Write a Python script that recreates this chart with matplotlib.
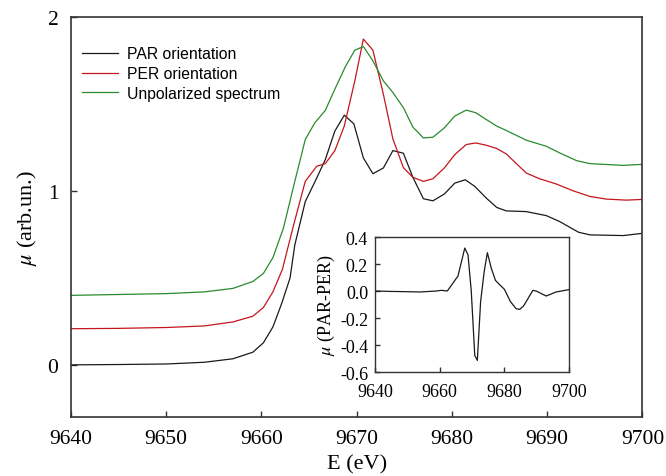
import matplotlib
matplotlib.use("Agg")
import matplotlib.pyplot as plt

# PAR orientation (black)
E_par = [9640, 9645, 9650, 9654, 9657, 9659.1, 9660.2, 9661.2, 9662.1, 9663.0, 9663.5,
         9664.6, 9665.6, 9666.7, 9667.7, 9668.7, 9669.7, 9670.7, 9671.7, 9672.8, 9673.8,
         9674.9, 9675.9, 9677.0, 9678.0, 9679.2, 9680.3, 9681.4, 9682.4, 9683.6, 9684.7,
         9685.7, 9687.8, 9689.9, 9691.3, 9693.3, 9694.5, 9698.0, 9700]
mu_par = [0.0, 0.002, 0.005, 0.015, 0.035, 0.073, 0.127, 0.218, 0.35, 0.50, 0.69,
          0.94, 1.052, 1.181, 1.345, 1.437, 1.387, 1.191, 1.100, 1.133, 1.233,
          1.218, 1.079, 0.956, 0.944, 0.983, 1.046, 1.065, 1.027, 0.960, 0.906,
          0.886, 0.882, 0.859, 0.825, 0.763, 0.748, 0.744, 0.757]

# PER orientation (red)
E_per = [9640, 9645, 9650, 9654, 9657, 9659.1, 9660.2, 9661.2, 9662.2, 9663.4, 9664.6,
         9665.8, 9666.7, 9667.7, 9668.7, 9669.8, 9670.7, 9671.7, 9672.8, 9673.8, 9674.9,
         9675.9, 9677.0, 9678.0, 9679.2, 9680.3, 9681.5, 9682.5, 9683.6, 9684.7, 9685.7,
         9687.8, 9689.2, 9691.0, 9692.7, 9694.5, 9696.2, 9698.3, 9700]
mu_per = [0.208, 0.21, 0.215, 0.224, 0.247, 0.28, 0.33, 0.42, 0.55, 0.81, 1.056,
          1.143, 1.158, 1.232, 1.375, 1.634, 1.875, 1.811, 1.557, 1.300, 1.135,
          1.079, 1.056, 1.071, 1.133, 1.210, 1.268, 1.277, 1.264, 1.245, 1.214,
          1.104, 1.071, 1.040, 1.002, 0.969, 0.954, 0.948, 0.952]

# Unpolarized spectrum (green)
E_unp = [9640, 9645, 9650, 9654, 9657, 9659.1, 9660.2, 9661.2, 9662.3, 9663.5, 9664.6,
         9665.6, 9666.7, 9667.7, 9668.8, 9669.8, 9670.7, 9671.7, 9672.8, 9673.8, 9674.9,
         9675.9, 9677.0, 9678.0, 9679.2, 9680.3, 9681.5, 9682.5, 9683.6, 9684.7, 9685.7,
         9687.8, 9689.9, 9691.3, 9693.1, 9694.5, 9698.0, 9700]
mu_unp = [0.40, 0.405, 0.41, 0.42, 0.44, 0.48, 0.526, 0.617, 0.786, 1.056, 1.297,
          1.393, 1.464, 1.586, 1.715, 1.811, 1.832, 1.750, 1.634, 1.567, 1.480,
          1.368, 1.306, 1.310, 1.364, 1.432, 1.466, 1.451, 1.412, 1.374, 1.349,
          1.293, 1.258, 1.220, 1.175, 1.158, 1.148, 1.154]

# inset: PAR - PER
E_diff = [9640, 9645, 9650, 9654, 9659, 9660.6, 9662.4, 9665.7, 9667.8, 9668.8, 9669.8,
          9670.9, 9671.7, 9672.7, 9673.8, 9674.8, 9676.0, 9677.3, 9678.6, 9680.1, 9681.9,
          9683.7, 9684.8, 9686.0, 9688.9, 9689.9, 9693.0, 9696.1, 9700]
mu_diff = [0.0, -0.003, -0.005, -0.007, 0.0, 0.005, 0.0, 0.111, 0.318, 0.269, 0.005,
           -0.477, -0.514, -0.081, 0.141, 0.284, 0.170, 0.079, 0.047, 0.012, -0.077,
           -0.131, -0.136, -0.111, 0.005, 0.0, -0.037, -0.007, 0.010]

main_xticks = [9640, 9650, 9660, 9670, 9680, 9690, 9700]
main_yticks = [0, 1, 2]
inset_xticks = [9640, 9660, 9680, 9700]
inset_yticks = [-0.6, -0.4, -0.2, 0.0, 0.2, 0.4]

plt.rcParams['font.family'] = ['Liberation Serif', 'DejaVu Serif']
plt.rcParams['mathtext.fontset'] = 'stix'
plt.rcParams['axes.unicode_minus'] = False

spine_col = '#333333'
c_par = '#1a1a1a'
c_per = '#c4161c'
c_unp = '#2b8a2e'

fig = plt.figure(figsize=(6.66, 4.77), dpi=100)
ax = fig.add_axes([0.1066, 0.1237, 0.858, 0.8379])

ax.plot(E_par, mu_par, color=c_par, lw=0.9, label='PAR orientation')
ax.plot(E_per, mu_per, color=c_per, lw=0.9, label='PER orientation')
ax.plot(E_unp, mu_unp, color=c_unp, lw=0.9, label='Unpolarized spectrum')

ax.set_xlim(9640, 9700)
ax.set_ylim(-0.3, 2.0)
ax.set_xticks(main_xticks)
ax.set_yticks(main_yticks)
ax.tick_params(direction='in', length=4.5, width=1.0, labelsize=15.5, pad=9,
               color=spine_col)
for s in ax.spines.values():
    s.set_color(spine_col)
    s.set_linewidth(1.2)
ax.set_xlabel('E (eV)', fontsize=16, labelpad=4)
ax.set_ylabel(r'$\mu$ (arb.un.)', fontsize=16, labelpad=6)

leg = ax.legend(loc='upper left', frameon=False, prop={'family': 'Liberation Sans', 'size': 11.3},
                handlelength=2.3, handletextpad=0.6, labelspacing=0.3,
                borderaxespad=0.3, bbox_to_anchor=(0.0, 0.955))

ins = fig.add_axes([0.563, 0.218, 0.291, 0.283])
ins.plot(E_diff, mu_diff, color=c_par, lw=0.9)
ins.set_xlim(9640, 9700)
ins.set_ylim(-0.6, 0.4)
ins.set_xticks(inset_xticks)
ins.set_yticks(inset_yticks)
ins.set_yticklabels(['%.1f' % v for v in inset_yticks])
ins.tick_params(direction='in', length=3.5, width=1.0, labelsize=13, color=spine_col)
ins.tick_params(axis='x', pad=8)
ins.tick_params(axis='y', pad=5)
for s in ins.spines.values():
    s.set_color(spine_col)
    s.set_linewidth(1.0)
ins.set_ylabel(r'$\mu$ (PAR-PER)', fontsize=13, labelpad=2)

fig.savefig('out.png', dpi=100)
